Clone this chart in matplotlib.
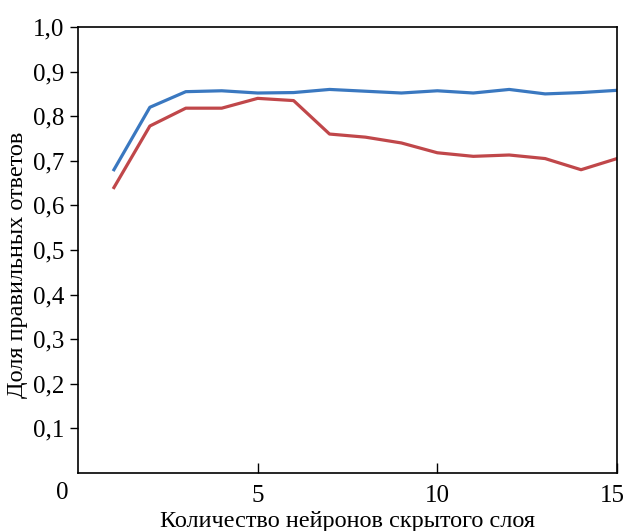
import matplotlib
matplotlib.use("Agg")
import matplotlib.pyplot as plt
import matplotlib.transforms as mtransforms

neurons = list(range(1, 16))
acc_blue = [0.68, 0.82, 0.855, 0.857, 0.852, 0.853, 0.86, 0.856, 0.852, 0.857, 0.852, 0.86, 0.85, 0.853, 0.858]
acc_red = [0.64, 0.778, 0.818, 0.818, 0.84, 0.835, 0.76, 0.753, 0.74, 0.718, 0.71, 0.713, 0.705, 0.68, 0.705]
yticks = [0.1, 0.2, 0.3, 0.4, 0.5, 0.6, 0.7, 0.8, 0.9, 1.0]
ytick_labels = ["0,1", "0,2", "0,3", "0,4", "0,5", "0,6", "0,7", "0,8", "0,9", "1,0"]
xticks = [5, 10, 15]
xtick_labels = ["5", "10", "15"]

plt.rcParams['font.family'] = ['Liberation Serif', 'DejaVu Serif']

fig = plt.figure(figsize=(6.26, 5.31), dpi=100)
ax = fig.add_axes([78/626, 1 - 473/531, (617-78)/626, (473-27)/531])

ax.plot(neurons, acc_blue, color='#3a78c0', lw=2.3)
ax.plot(neurons, acc_red, color='#c0474a', lw=2.3)

ax.set_xlim(0, 15)
ax.set_ylim(0, 1.0)
ax.set_yticks(yticks)
ax.set_yticklabels(ytick_labels, fontsize=18)
ax.set_xticks(xticks)
ax.set_xticklabels(xtick_labels, fontsize=18)
ax.tick_params(axis='y', direction='out', length=6, width=1, pad=4)
ax.tick_params(axis='x', direction='in', length=7, width=1, pad=9)
for s in ax.spines.values():
    s.set_linewidth(1.2)

last = ax.get_xticklabels()[-1]
last.set_horizontalalignment('right')
last.set_transform(last.get_transform() + mtransforms.ScaledTranslation(8/100, 0, fig.dpi_scale_trans))

fig.text(62/626, 1 - 493/531, "0", fontsize=18, ha='center', va='center')
fig.text(18/626, 1 - 265/531, "Доля правильных ответов", fontsize=17.5,
         rotation=90, ha='center', va='center')
fig.text(347/626, 1 - 521/531, "Количество нейронов скрытого слоя", fontsize=17.5,
         ha='center', va='center')

fig.savefig("out.png", dpi=100)
